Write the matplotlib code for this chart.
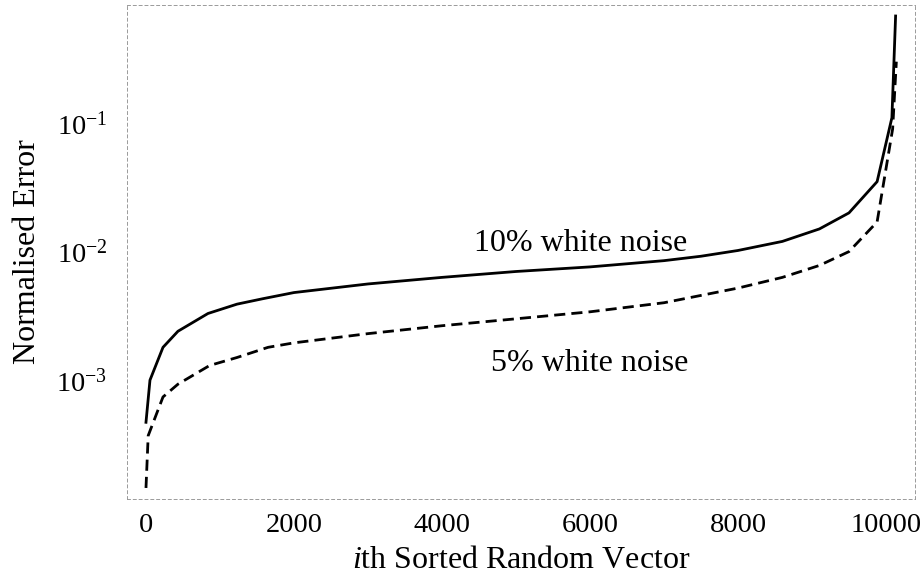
import matplotlib
matplotlib.use("Agg")
import matplotlib.pyplot as plt
import numpy as np

plt.rcParams['font.family'] = ['Liberation Serif', 'DejaVu Serif']
plt.rcParams['mathtext.fontset'] = 'custom'
plt.rcParams['mathtext.rm'] = 'Liberation Serif'
plt.rcParams['mathtext.it'] = 'Liberation Serif:italic'

# Data
x_solid = [0, 54, 230, 432, 838, 1230, 1580, 2000, 3000, 4000, 5000, 6000,
           7000, 7500, 8000, 8600, 9100, 9500, 9880, 10080, 10130]
err_10 = [4.7e-4, 1.0e-3, 1.8e-3, 2.4e-3, 3.3e-3, 3.9e-3, 4.3e-3, 4.8e-3,
          5.6e-3, 6.3e-3, 7.0e-3, 7.6e-3, 8.5e-3, 9.2e-3, 1.02e-2, 1.2e-2,
          1.5e-2, 2.0e-2, 3.5e-2, 1.1e-1, 0.68]
x_dashed = [0, 30, 230, 432, 860, 1230, 1650, 2000, 3000, 4000, 5000, 6000,
            7000, 8000, 8600, 9100, 9500, 9880, 10090, 10140]
err_5 = [1.45e-4, 3.7e-4, 7.4e-4, 9.3e-4, 1.3e-3, 1.5e-3, 1.8e-3, 1.95e-3,
         2.3e-3, 2.65e-3, 3.0e-3, 3.4e-3, 4.0e-3, 5.2e-3, 6.3e-3, 7.8e-3,
         1.0e-2, 1.7e-2, 9.0e-2, 0.3]
x_ticks = [0, 2000, 4000, 6000, 8000, 10000]
y_ticks = [1e-3, 1e-2, 1e-1]
y_tick_labels = [r'$10^{-3}$', r'$10^{-2}$', r'$10^{-1}$']
label_10 = '10% white noise'
label_5 = '5% white noise'

fig = plt.figure(figsize=(9.22, 5.75), dpi=100)
ax = fig.add_axes([0.1377, 0.1322, 0.8547, 0.8591])

ax.plot(x_solid, err_10, color='black', lw=2.0)
ax.plot(x_dashed, err_5, color='black', lw=2.0, dashes=(4, 2.2))

ax.set_yscale('log')
ax.set_xlim(-257, 10392)
ax.set_ylim(1.19e-4, 0.828)
ax.set_xticks(x_ticks)
ax.set_xticklabels([str(v) for v in x_ticks])
ax.set_yticks(y_ticks)
ax.set_yticklabels(y_tick_labels)
ax.minorticks_off()
ax.tick_params(axis='both', length=0, labelsize=20.5)
ax.tick_params(axis='y', pad=14)
ax.tick_params(axis='x', pad=10)

for s in ax.spines.values():
    s.set_color('#9a9a9a')
    s.set_linewidth(0.7)
    s.set_linestyle((0, (3, 3)))

ax.set_xlabel(r'$\it{i}$th Sorted Random Vector', fontsize=23, labelpad=6)
ax.set_ylabel('Normalised Error', fontsize=23)
ax.yaxis.set_label_coords(-0.108, 0.5)

ax.text(5880, 1.15e-2, label_10, fontsize=23, ha='center', va='center')
ax.text(6000, 1.35e-3, label_5, fontsize=23, ha='center', va='center')

fig.savefig('out.png', dpi=100)
